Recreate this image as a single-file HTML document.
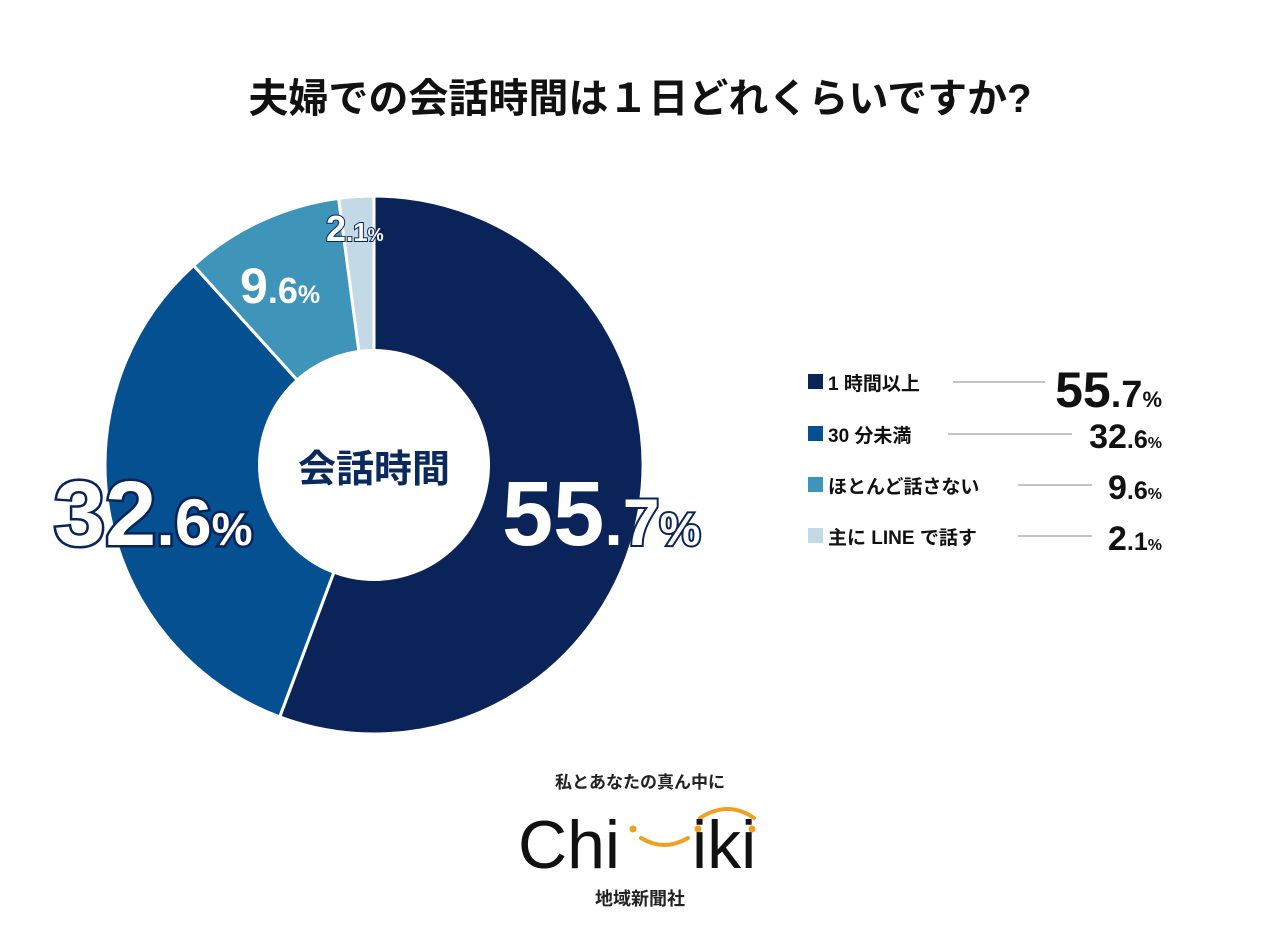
<!DOCTYPE html>
<html><head><meta charset="utf-8"><style>
body{margin:0;background:#fff;font-family:"Liberation Sans","Noto Sans CJK JP",sans-serif;}
svg{display:block}
</style></head><body>
<svg width="1279" height="929" viewBox="0 0 1279 929" xmlns="http://www.w3.org/2000/svg">
<text x="640" y="112" text-anchor="middle" font-size="40" font-weight="bold" fill="#111" font-family="Liberation Sans,Noto Sans CJK JP,sans-serif">夫婦での会話時間は１日どれくらいですか?</text>
<g id="donut"></g>
<circle cx="374" cy="465" r="116" fill="#fff"/>
<text x="374" y="482" text-anchor="middle" font-size="38" font-weight="bold" fill="#0a2a5e" font-family="Liberation Sans,Noto Sans CJK JP,sans-serif">会話時間</text>
<g id="labels" font-family="Liberation Sans,sans-serif" font-weight="bold"></g>
<g id="legend" font-family="Liberation Sans,Noto Sans CJK JP,sans-serif"></g>
<g font-family="Liberation Sans,Noto Sans CJK JP,sans-serif" font-weight="bold">
<text x="640" y="788" text-anchor="middle" font-size="17" fill="#222">私とあなたの真ん中に</text>
<text x="518" y="868" font-size="68" font-weight="normal" fill="#111">Chi</text>
<path d="M641 838 Q664 852 688 838" stroke="#f0a020" stroke-width="4" fill="none" stroke-linecap="round"/>
<circle cx="633" cy="829" r="3.5" fill="#f0a020"/><circle cx="698" cy="829" r="3.5" fill="#f0a020"/><circle cx="752" cy="829" r="3.5" fill="#f0a020"/>
<path d="M700 818 Q728 800 754 818" stroke="#f0a020" stroke-width="4" fill="none" stroke-linecap="round"/>
<text x="692" y="868" font-size="68" font-weight="normal" fill="#111">iki</text>
<text x="640" y="905" text-anchor="middle" font-size="18" fill="#222">地域新聞社</text>
</g>
</svg>
<script>
const categories=["1 時間以上","30 分未満","ほとんど話さない","主に LINE で話す"];
const values=[55.7,32.6,9.6,2.1];
const colors=["#0a2459","#045090","#3f94b9","#c3d9e5"];
const NS="http://www.w3.org/2000/svg";
const cx=374,cy=465,R=269,r0=116;
const total=values.reduce((a,b)=>a+b,0);
function pt(a,rr){return [cx+rr*Math.sin(a),cy-rr*Math.cos(a)];}
const donut=document.getElementById('donut');
let acc=0;
values.forEach((v,i)=>{
 const a0=acc/total*2*Math.PI;acc+=v;const a1=acc/total*2*Math.PI;
 const [x0,y0]=pt(a0,R),[x1,y1]=pt(a1,R);const large=a1-a0>Math.PI?1:0;
 const p=document.createElementNS(NS,'path');
 p.setAttribute('d',`M${cx} ${cy} L${x0} ${y0} A${R} ${R} 0 ${large} 1 ${x1} ${y1} Z`);
 p.setAttribute('fill',colors[i]);p.setAttribute('stroke','#fff');p.setAttribute('stroke-width','3');
 
 
 donut.appendChild(p);
});
const labelPos=[[502,545,92,false],[54,545,92,true],[240,303,50,false],[326,241,36,true]];
const lg=document.getElementById('labels');
values.forEach((v,i)=>{
 const [x,y,fs,outline]=labelPos[i];
 const s=v.toFixed(1).split('.');
 const t=document.createElementNS(NS,'text');
 t.setAttribute('x',x);t.setAttribute('y',y);t.setAttribute('fill','#fff');
 if(outline){t.setAttribute('stroke','#0a2459');t.setAttribute('stroke-width',fs/18);t.setAttribute('paint-order','stroke');}
 
 
 t.innerHTML=`<tspan font-size="${fs}">${s[0]}</tspan><tspan font-size="${fs*0.72}">.</tspan><tspan font-size="${fs*0.72}" ${i===0?'stroke="#0a2459" stroke-width="4" paint-order="stroke"':''}>${s[1]}</tspan><tspan font-size="${fs*0.5}" ${i===0?'stroke="#0a2459" stroke-width="4" paint-order="stroke"':''}>%</tspan>`;
 lg.appendChild(t);
});
const leg=document.getElementById('legend');
const rowY=[390,442,493,544];
const lineX=[[953,1045],[948,1072],[1018,1092],[1018,1092]];
categories.forEach((c,i)=>{
 const g=document.createElementNS(NS,'g');
 
 
 const y=rowY[i];
 const s=values[i].toFixed(1).split('.');
 const big=i===0;
 g.innerHTML=`<rect x="808" y="${y-16}" width="15" height="15" fill="${colors[i]}"/>
<text x="828" y="${y}" font-size="19" font-weight="bold" fill="#111">${c}</text>
<line x1="${lineX[i][0]}" y1="${y-8}" x2="${lineX[i][1]}" y2="${y-8}" stroke="#888" stroke-width="1"/>
<text x="1162" y="${y+(big?17:6)}" text-anchor="end" fill="#111" font-weight="bold"><tspan font-size="${big?50:34}">${s[0]}</tspan><tspan font-size="${big?38:25}">.${s[1]}</tspan><tspan font-size="${big?22:16}">%</tspan></text>`;
 leg.appendChild(g);
});
</script>
</body></html>
